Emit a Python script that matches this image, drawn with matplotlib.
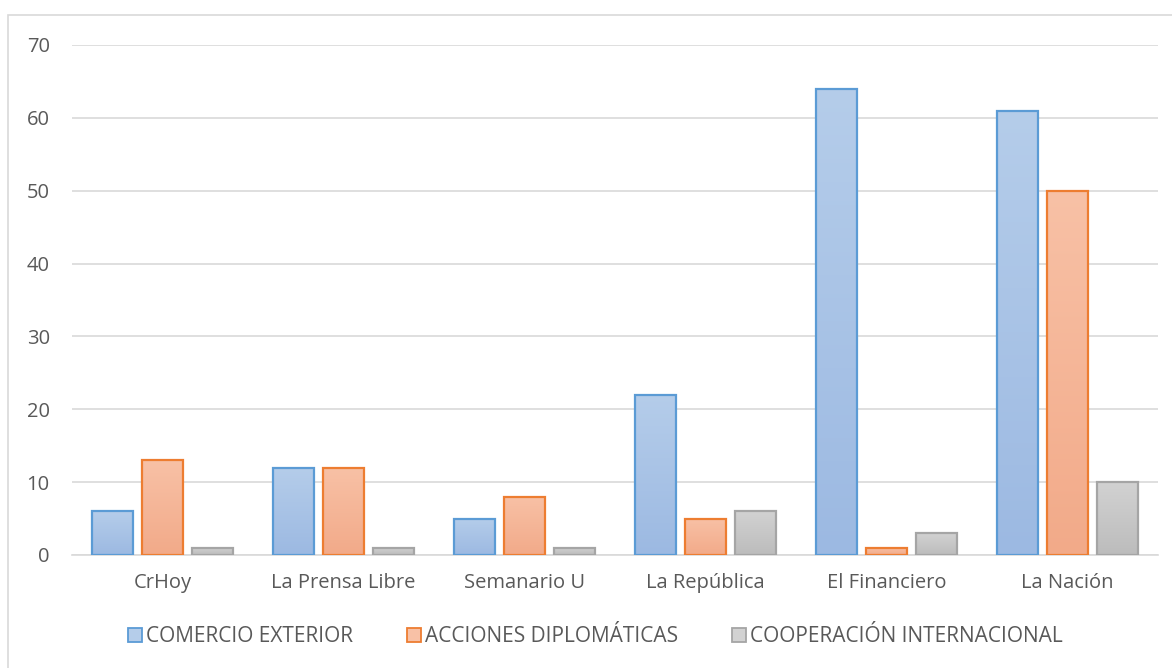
import matplotlib
matplotlib.use("Agg")
import matplotlib.pyplot as plt
import numpy as np
from matplotlib.colors import LinearSegmentedColormap
from matplotlib.patches import Rectangle

plt.rcParams['font.family'] = ['Open Sans', 'DejaVu Sans']

categories = ['CrHoy', 'La Prensa Libre', 'Semanario U', 'La República', 'El Financiero', 'La Nación']
comercio = [6, 12, 5, 22, 64, 61]
acciones = [13, 12, 8, 5, 1, 50]
cooperacion = [1, 1, 1, 6, 3, 10]
series_names = ['COMERCIO EXTERIOR', 'ACCIONES DIPLOMÁTICAS', 'COOPERACIÓN INTERNACIONAL']

edge_colors = ['#5b9bd5', '#ed7d31', '#a5a5a5']
grad = [('#b5cdea', '#9cb9e2'), ('#f8c1a6', '#f2aa89'), ('#d2d2d2', '#bcbcbc')]
text_col = '#595959'

fig = plt.figure(figsize=(11.72, 6.68), dpi=100)
ax = fig.add_axes([72/1172, 1-555/668, (1158-72)/1172, 510/668])

# outer chart border
fig.patches.append(Rectangle((8/1172, -0.01), 1.02, 1-15/668+0.01, transform=fig.transFigure,
                             fill=False, edgecolor='#d9d9d9', linewidth=1.2))

x = np.arange(len(categories))
width = 0.227
offsets = [-0.276, 0, 0.276]
data = [comercio, acciones, cooperacion]

gradimg = np.linspace(1, 0, 256).reshape(-1, 1)
for i, vals in enumerate(data):
    cmap = LinearSegmentedColormap.from_list('g%d' % i, [grad[i][1], grad[i][0]])
    bars = ax.bar(x + offsets[i], vals, width, color='none', edgecolor=edge_colors[i],
                  linewidth=1.6, zorder=3, label=series_names[i])
    for b in bars:
        bx = b.get_x()
        h = b.get_height()
        im = ax.imshow(gradimg, cmap=cmap, aspect='auto', extent=[bx, bx + width, 0, h],
                       zorder=2, vmin=0, vmax=1)
        im.set_clip_path(b)

ax.set_xlim(-0.5, len(categories) - 0.5)
ax.set_ylim(0, 70)
ax.set_yticks(range(0, 71, 10))
ax.yaxis.grid(True, color='#d9d9d9', linewidth=1.2, zorder=0)
ax.set_axisbelow(True)
for s in ['top', 'right', 'left']:
    ax.spines[s].set_visible(False)
ax.spines['bottom'].set_color('#d9d9d9')
ax.spines['bottom'].set_linewidth(1.2)
ax.tick_params(axis='both', length=0, colors=text_col, labelsize=14.5)
ax.tick_params(axis='y', pad=16)
ax.tick_params(axis='x', pad=13)
ax.set_xticks(x)
ax.set_xticklabels(categories)

handles = [Rectangle((0, 0), 1, 1, facecolor=grad[i][0], edgecolor=edge_colors[i], linewidth=1.3)
           for i in range(3)]
fig.legend(handles, series_names, loc='center', bbox_to_anchor=(0.508, 1-637/668), ncol=3,
           frameon=False, fontsize=15, handlelength=0.65, handleheight=0.65, handletextpad=0.2,
           columnspacing=2.6, labelcolor=text_col)

fig.savefig('out.png', dpi=100)
